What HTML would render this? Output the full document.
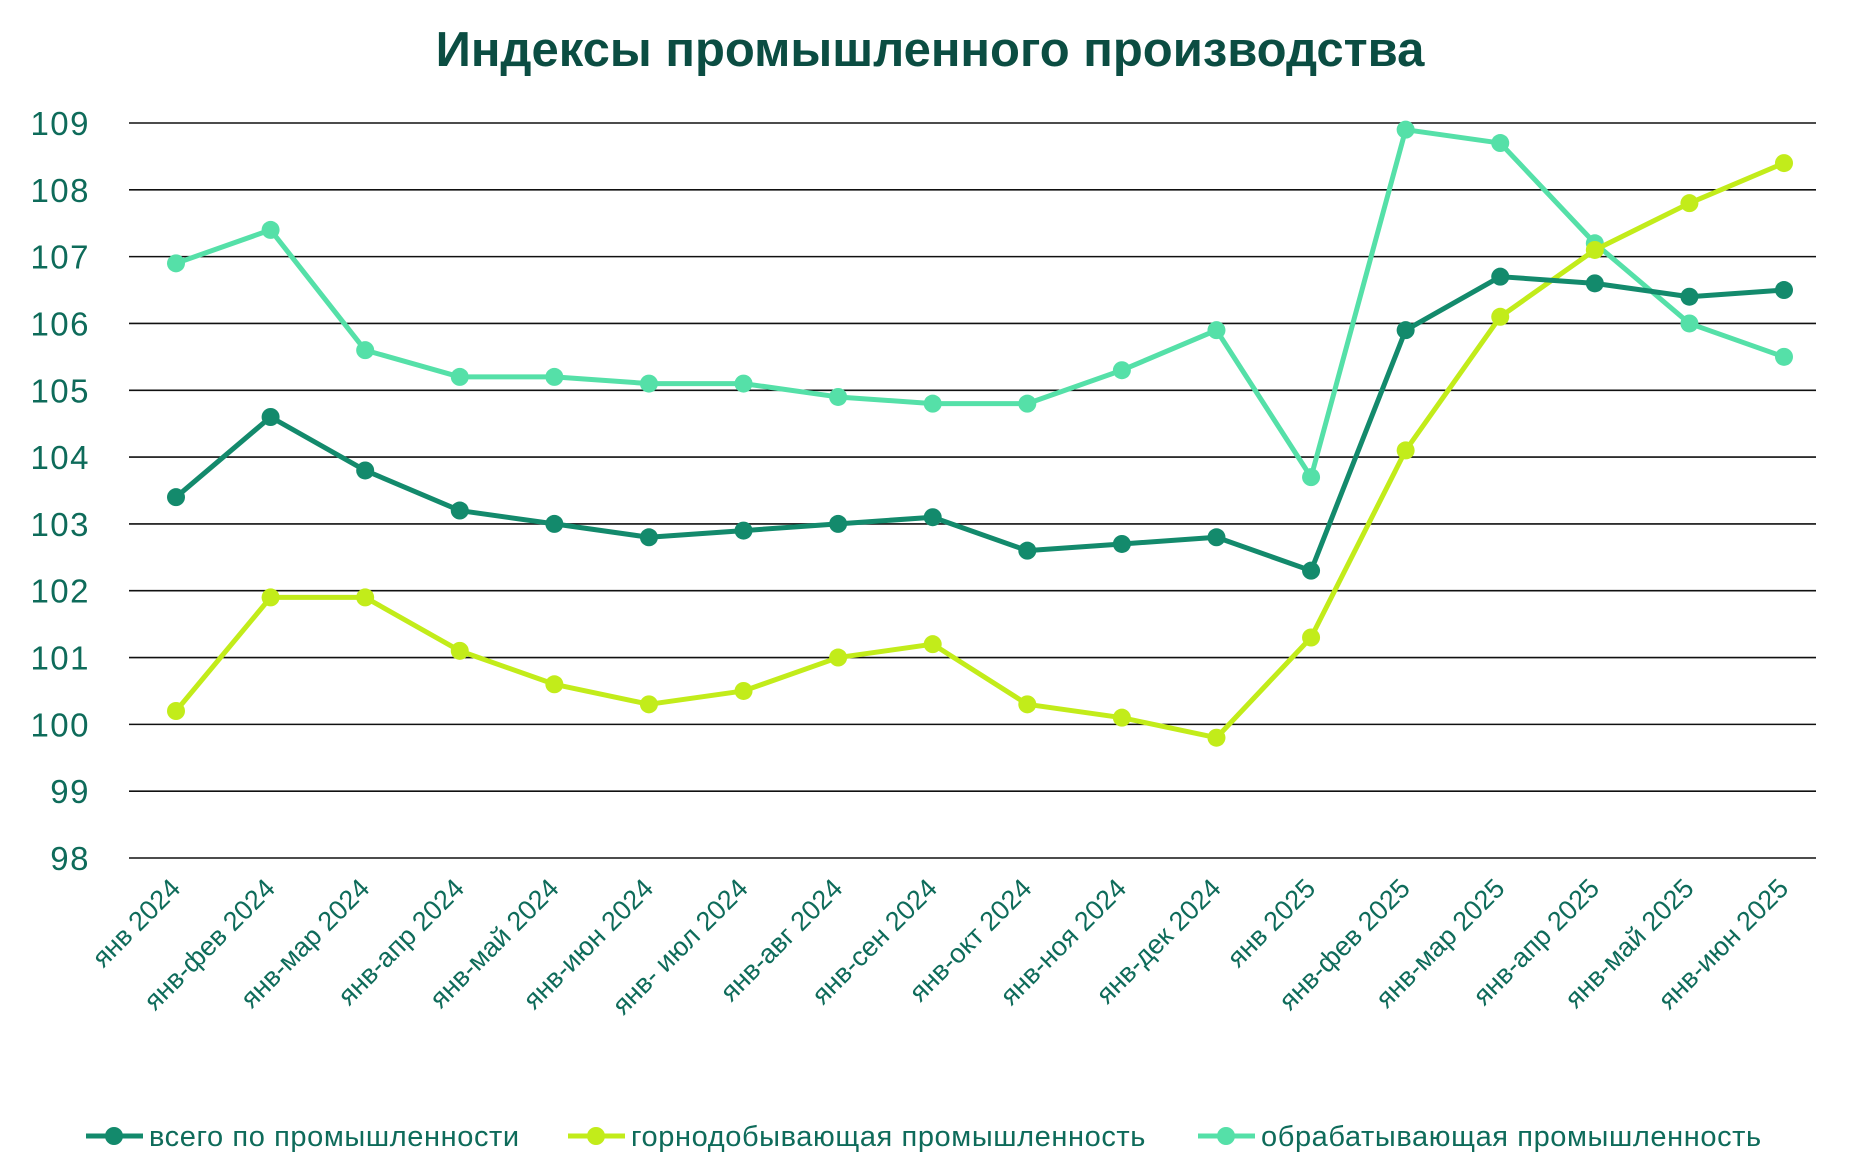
<!DOCTYPE html>
<html><head><meta charset="utf-8"><style>
body{margin:0;background:#fff;}
svg{display:block;font-family:"Liberation Sans","DejaVu Sans",sans-serif;}
</style></head><body>
<svg id="c" width="1860" height="1164" viewBox="0 0 1860 1164">
<text x="930" y="66" text-anchor="middle" font-size="49" font-weight="bold" fill="#0b4d42">Индексы промышленного производства</text>
<g id="grid"></g><g id="series"></g><g id="xl"></g><g id="legend"></g>
</svg>
<script>
const categories=["янв 2024","янв-фев 2024","янв-мар 2024","янв-апр 2024","янв-май 2024","янв-июн 2024","янв- июл 2024","янв-авг 2024","янв-сен 2024","янв-окт 2024","янв-ноя 2024","янв-дек 2024","янв 2025","янв-фев 2025","янв-мар 2025","янв-апр 2025","янв-май 2025","янв-июн 2025"];
const totalValues=[103.4,104.6,103.8,103.2,103.0,102.8,102.9,103.0,103.1,102.6,102.7,102.8,102.3,105.9,106.7,106.6,106.4,106.5];
const miningValues=[100.2,101.9,101.9,101.1,100.6,100.3,100.5,101.0,101.2,100.3,100.1,99.8,101.3,104.1,106.1,107.1,107.8,108.4];
const manufValues=[106.9,107.4,105.6,105.2,105.2,105.1,105.1,104.9,104.8,104.8,105.3,105.9,103.7,108.9,108.7,107.2,106.0,105.5];
const yTicks=[98,99,100,101,102,103,104,105,106,107,108,109];
const seriesNames=["всего по промышленности","горнодобывающая промышленность","обрабатывающая промышленность"];
const NS="http://www.w3.org/2000/svg";
const X0=176,X1=1784,Y0=858,Y1=123,VMIN=98,VMAX=109;
function x(i){return X0+(X1-X0)*i/(categories.length-1);}
function y(v){return Y0-(v-VMIN)*(Y0-Y1)/(VMAX-VMIN);}
function mk(t,a,p){const e=document.createElementNS(NS,t);for(const k in a)e.setAttribute(k,a[k]);p.appendChild(e);return e;}
const grid=document.getElementById('grid');
yTicks.forEach(v=>{
 const l=mk('line',{x1:129,x2:1816,y1:y(v),y2:y(v),stroke:'#111','stroke-width':1.6},grid);
 
 
 const t=mk('text',{x:90,y:y(v)+12,'text-anchor':'end','font-size':33,'letter-spacing':1.5,fill:'#0e6b5a'},grid);
 t.textContent=v;
 
 
});
const xl=document.getElementById('xl');
categories.forEach((c,i)=>{
 const px=x(i)+6,py=890;
 const t=mk('text',{x:px,y:py,'text-anchor':'end','font-size':27,fill:'#0e6b5a',transform:`rotate(-45 ${px} ${py})`},xl);
 t.textContent=c;
 
 
});
const colors=["#138a6c","#c2ec1a","#55e0a8"];
const data=[totalValues,miningValues,manufValues];
const sg=document.getElementById('series');
[2,1,0].forEach(s=>{
 const g=mk('g',{},sg);
 
 
 const pl=mk('polyline',{points:data[s].map((v,i)=>x(i)+','+y(v)).join(' '),fill:'none',stroke:colors[s],'stroke-width':5,'stroke-linejoin':'round'},g);
 
 
 data[s].forEach((v,i)=>{
  const c=mk('circle',{cx:x(i),cy:y(v),r:9,fill:colors[s]},g);
  
  
 });
});
const lg=document.getElementById('legend');
const lx=[86,568,1198];
seriesNames.forEach((n,s)=>{
 const g=mk('g',{},lg);
 
 
 mk('line',{x1:lx[s],x2:lx[s]+57,y1:1136,y2:1136,stroke:colors[s],'stroke-width':5},g);
 mk('circle',{cx:lx[s]+28,cy:1136,r:9,fill:colors[s]},g);
 const t=mk('text',{x:lx[s]+63,y:1146,'font-size':29,'letter-spacing':0.6,fill:'#0e6b5a'},g);
 t.textContent=n;
});
</script>
</body></html>
